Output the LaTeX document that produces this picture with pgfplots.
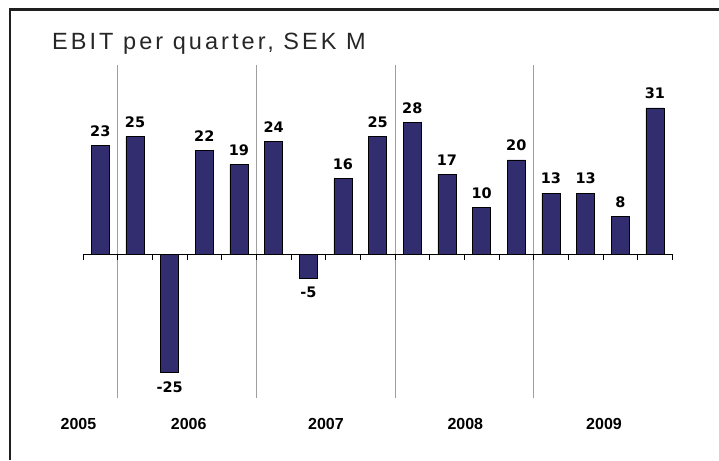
\documentclass[border=0pt]{standalone}
\usepackage{pgfplots}
\pgfplotsset{compat=1.18}
\usepackage{fontspec}
\setmainfont{Liberation Sans}
\newfontfamily\titlefont[LetterSpace=13]{Liberation Sans}
\newfontfamily\labfont{DejaVu Sans}
\definecolor{barblue}{RGB}{49,45,110}
\begin{document}
\begin{tikzpicture}
\useasboundingbox (0,0) rectangle (719pt,460pt);
\draw[line width=2.5pt, black!88, line join=miter] (10pt,0pt) -- (10pt,450.7pt) -- (719pt,450.7pt);
\node[anchor=base west, inner sep=0pt, text=black!85] at (52pt,410.7pt) {\titlefont\fontsize{23.5pt}{28pt}\selectfont EBIT per quarter, SEK M};
\begin{axis}[
  scale only axis, width=589.3pt, height=333pt,
  at={(83pt,62pt)}, anchor=south west,
  xmin=-0.5, xmax=16.5, ymin=-30.4, ymax=40.1,
  axis x line=middle, axis y line=none,
  x axis line style={-, line width=0.9pt, black},
  xtick={-0.5,0.5,...,16.5}, xticklabels={},
  xtick align=outside, major tick length=6pt,
  xtick style={black, line width=0.9pt},
  extra x ticks={0.5,4.5,8.5,12.5}, extra x tick labels={},
  extra x tick style={grid=major, major grid style={gray!75, line width=0.8pt}},
  ytick=\empty,
  clip=false,
  ybar, bar width=18pt,
  /pgf/number format/assume math mode=true,
  nodes near coords,
  nodes near coords style={font=\labfont\bfseries\fontsize{14.5pt}{16pt}\selectfont, inner xsep=0pt, inner ysep=8.5pt, text=black},
]
\addplot[fill=barblue, draw=black, line width=0.8pt] coordinates {
(0,23) (1,25) (2,-25) (3,22) (4,19) (5,24) (6,-5) (7,16) (8,25) (9,28) (10,17) (11,10) (12,20) (13,13) (14,13) (15,8) (16,31)
};
\node[font=\bfseries\fontsize{16pt}{18pt}\selectfont] at (axis cs:-0.63,-35.9) {2005};
\node[font=\bfseries\fontsize{16pt}{18pt}\selectfont] at (axis cs:2.55,-35.9) {2006};
\node[font=\bfseries\fontsize{16pt}{18pt}\selectfont] at (axis cs:6.51,-35.9) {2007};
\node[font=\bfseries\fontsize{16pt}{18pt}\selectfont] at (axis cs:10.53,-35.9) {2008};
\node[font=\bfseries\fontsize{16pt}{18pt}\selectfont] at (axis cs:14.53,-35.9) {2009};
\end{axis}
\end{tikzpicture}
\end{document}
